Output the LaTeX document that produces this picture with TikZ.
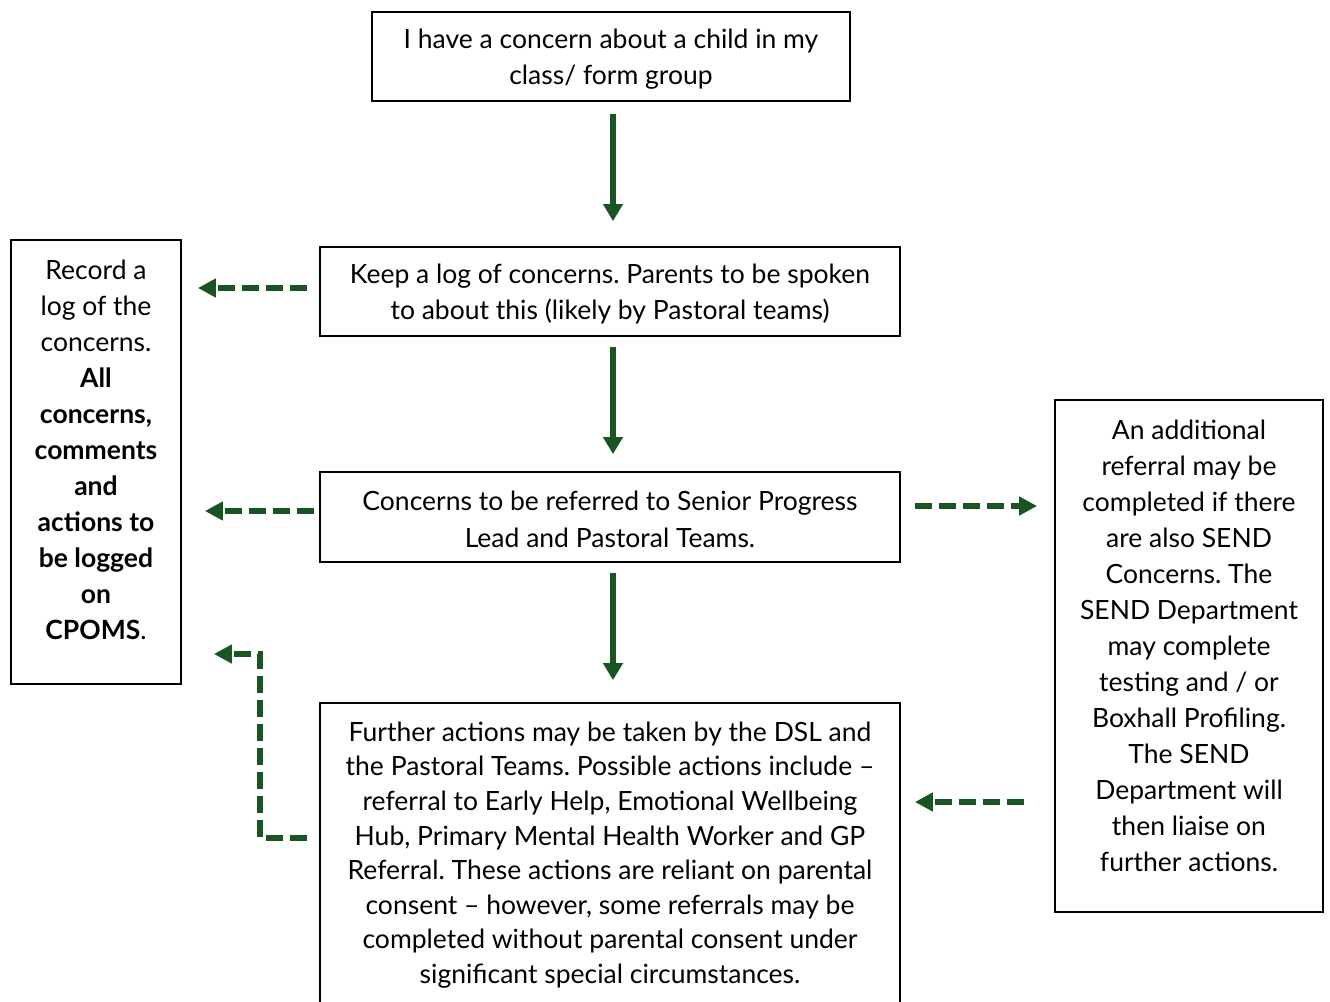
\documentclass[tikz,border=0pt]{standalone}
\usepackage{fontspec}
\setmainfont{Lato}
\usetikzlibrary{arrows.meta}
\definecolor{arrowgreen}{RGB}{25,85,35}
\frenchspacing
\begin{document}
\begin{tikzpicture}[x=1pt,y=-1pt,
  box/.style={draw=black,line width=1.8pt,inner sep=0pt,align=center,
    font=\fontsize{26.5}{36}\selectfont},
  txt/.style={inner sep=0pt,align=center,font=\fontsize{26.5}{36}\selectfont},
  solidarrow/.style={draw=arrowgreen,line width=5.5pt,-{Triangle[length=17pt,width=19pt]}},
  dasharrow/.style={draw=arrowgreen,line width=5.5pt,dash pattern=on 17pt off 7pt,
    -{Triangle[length=18pt,width=18pt]}}]
\useasboundingbox (0,0) rectangle (1330,1001);
\fill[white] (0,0) rectangle (1330,1001);

\node[box,minimum width=478pt,minimum height=89pt] (top) at (611,56.5) {};
\node[txt] (toptxt) at (611,59.5)
  {I have a concern about a child in my\\class/ form group};
\node[box,minimum width=580pt,minimum height=89pt] (keep) at (610,291.5) {};
\node[txt] (keeptxt) at (610,294.5)
  {Keep a log of concerns. Parents to be spoken\\to about this (likely by Pastoral teams)};
\node[box,minimum width=580pt,minimum height=90pt] (refer) at (610,517) {};
\node[txt,font=\fontsize{26.5}{37}\selectfont] (refertxt) at (610,519.5)
  {Concerns to be referred to Senior Progress\\Lead and Pastoral Teams.};
\node[box,minimum width=580pt,minimum height=301pt] (further) at (610,853.5) {};
\node[txt,font=\fontsize{26.5}{34.6}\selectfont] (furthertxt) at (610,855)
  {Further actions may be taken by the DSL and\\the Pastoral Teams. Possible actions include –\\referral to Early Help, Emotional Wellbeing\\Hub, Primary Mental Health Worker and GP\\Referral. These actions are reliant on parental\\consent – however, some referrals may be\\completed without parental consent under\\significant special circumstances.};
\node[box,minimum width=170pt,minimum height=444pt] (left) at (96,462) {};
\node[txt] (lefttxt) at (96,450)
  {Record a\\log of the\\concerns.\\\textbf{All}\\\textbf{concerns,}\\\textbf{comments}\\\textbf{and}\\\textbf{actions to}\\\textbf{be logged}\\\textbf{on}\\\textbf{CPOMS}.};
\node[box,minimum width=268pt,minimum height=512pt] (right) at (1189,656) {};
\node[txt] (righttxt) at (1189,646)
  {An additional\\referral may be\\completed if there\\are also SEND\\Concerns. The\\SEND Department\\may complete\\testing and / or\\Boxhall Profiling.\\The SEND\\Department will\\then liaise on\\further actions.};

\draw[solidarrow] ([xshift=2pt,yshift=-12pt]top.south) -- ([xshift=3pt,yshift=25pt]keep.north);
\draw[solidarrow] ([xshift=3pt,yshift=-10pt]keep.south) -- ([xshift=3pt,yshift=17pt]refer.north);
\draw[solidarrow] ([xshift=3pt,yshift=-10pt]refer.south) -- ([xshift=3pt,yshift=22pt]further.north);

\draw[dasharrow] ([xshift=-12pt]keep.west |- 0,288) -- ([xshift=16pt]left.east |- 0,288);
\draw[dasharrow] ([xshift=-5pt]refer.west |- 0,511) -- ([xshift=23pt]left.east |- 0,511);
\coordinate (elbowA) at (260,838);
\coordinate (elbowB) at (260,654);
\draw[dasharrow] ([xshift=-12pt]further.west |- 0,838) -- (elbowA) -- (elbowB) -- ([xshift=32pt]left.east |- elbowB);
\draw[dasharrow] ([xshift=14pt]refer.east |- 0,506) -- ([xshift=-17pt]right.west |- 0,506);
\draw[dasharrow] ([xshift=-30pt]right.west |- 0,802) -- ([xshift=14pt]further.east |- 0,802);
\end{tikzpicture}
\end{document}
